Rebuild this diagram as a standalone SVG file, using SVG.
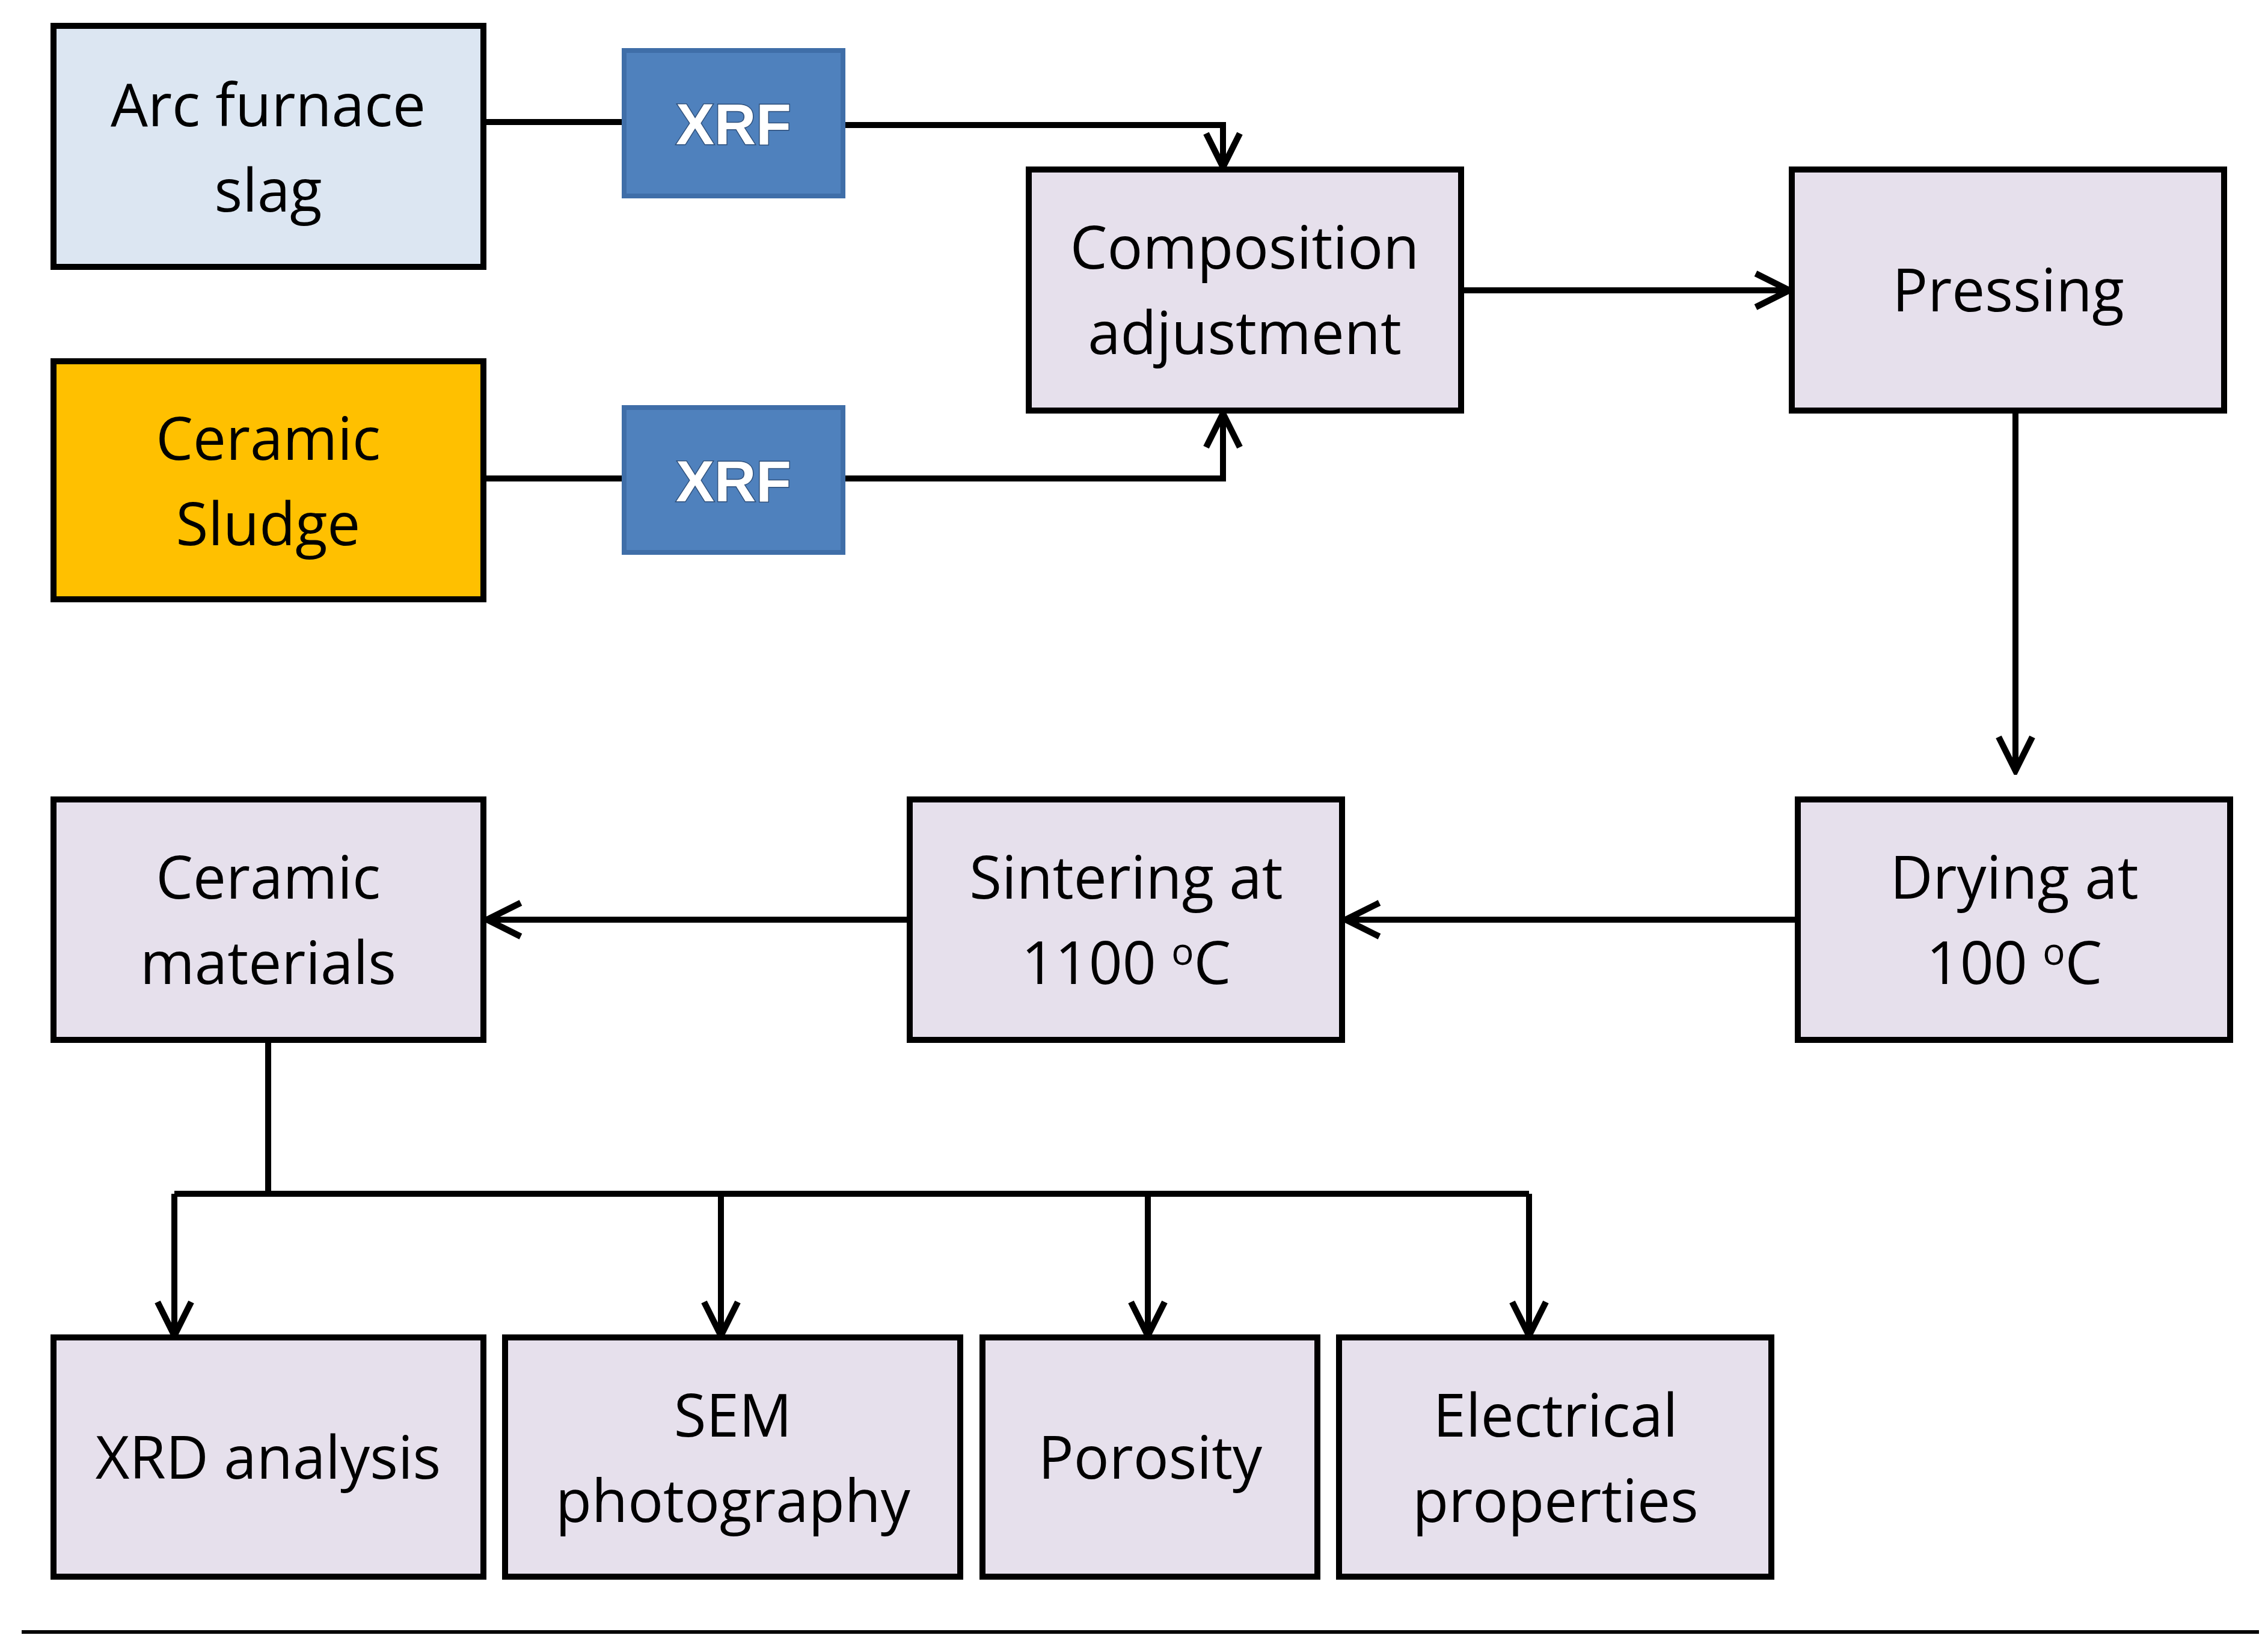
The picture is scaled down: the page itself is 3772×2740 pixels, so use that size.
<svg xmlns="http://www.w3.org/2000/svg" width="3772" height="2740" viewBox="0 0 3772 2740">
<defs>
<style>
.b{fill:#E6E0EC;stroke:#000;stroke-width:10}
.t{font-family:"Open Sans","Liberation Sans",sans-serif;font-size:98px;fill:#000;text-anchor:middle}
.x{fill:#4F81BD;stroke:#3F6EA8;stroke-width:8}
.xt{font-family:"Liberation Sans",sans-serif;font-weight:bold;font-size:96px;fill:#fff;text-anchor:middle;stroke:#2E4F7A;stroke-width:3;paint-order:stroke}
.c{fill:none;stroke:#000;stroke-width:10}
</style>
<marker id="a" viewBox="0 0 20 20" refX="18" refY="10" markerWidth="7" markerHeight="7" orient="auto" markerUnits="strokeWidth">
<path d="M2 2 L18 10 L2 18" fill="none" stroke="#000" stroke-width="3"/>
</marker>
</defs>
<rect width="3772" height="2740" fill="#fff"/>
<g id="connectors">
<path class="c" d="M804 203 H1038"/>
<path class="c" d="M1402 208 H2034 V278" marker-end="url(#a)"/>
<path class="c" d="M804 796 H1038"/>
<path class="c" d="M1402 796 H2034 V688" marker-end="url(#a)"/>
<path class="c" d="M2430 483 H2976" marker-end="url(#a)"/>
<path class="c" d="M3352 683 V1282" marker-end="url(#a)"/>
<path class="c" d="M2990 1530 H2238" marker-end="url(#a)"/>
<path class="c" d="M1513 1530 H810" marker-end="url(#a)"/>
<path class="c" d="M446 1730 V1986"/>
<path class="c" d="M290 1986 H2543"/>
<path class="c" d="M290 1986 V2222" marker-end="url(#a)"/>
<path class="c" d="M1199 1986 V2222" marker-end="url(#a)"/>
<path class="c" d="M1909 1986 V2222" marker-end="url(#a)"/>
<path class="c" d="M2543 1986 V2222" marker-end="url(#a)"/>
<path d="M36 2715 H3757" stroke="#000" stroke-width="6"/>
</g>
<g id="arc"><rect x="89" y="43" width="715" height="401" fill="#DCE6F2" stroke="#000" stroke-width="10"/><text class="t" x="446" y="210">Arc furnace</text><text class="t" x="446" y="352">slag</text></g>
<g id="sludge"><rect x="89" y="601" width="715" height="396" fill="#FFC000" stroke="#000" stroke-width="10"/><text class="t" x="446" y="765">Ceramic</text><text class="t" x="446" y="907">Sludge</text></g>
<g id="xrf1"><rect class="x" x="1038" y="84" width="364" height="242"/><text class="xt" x="1220" y="240">XRF</text></g>
<g id="xrf2"><rect class="x" x="1038" y="678" width="364" height="241"/><text class="xt" x="1220" y="834">XRF</text></g>
<g id="comp"><rect class="b" x="1711" y="282" width="719" height="401"/><text class="t" x="2070" y="447">Composition</text><text class="t" x="2070" y="589">adjustment</text></g>
<g id="press"><rect class="b" x="2980" y="282" width="719" height="401"/><text class="t" x="3340" y="518">Pressing</text></g>
<g id="dry"><rect class="b" x="2990" y="1330" width="719" height="400"/><text class="t" x="3350" y="1495">Drying at</text><text class="t" x="3350" y="1637">100 <tspan font-size="62" dy="-32">o</tspan><tspan dy="32">C</tspan></text></g>
<g id="sinter"><rect class="b" x="1513" y="1330" width="719" height="400"/><text class="t" x="1873" y="1495">Sintering at</text><text class="t" x="1873" y="1637">1100 <tspan font-size="62" dy="-32">o</tspan><tspan dy="32">C</tspan></text></g>
<g id="cermat"><rect class="b" x="89" y="1330" width="715" height="400"/><text class="t" x="446" y="1495">Ceramic</text><text class="t" x="446" y="1637">materials</text></g>
<g id="xrd"><rect class="b" x="89" y="2225" width="715" height="398"/><text class="t" x="446" y="2460">XRD analysis</text></g>
<g id="sem"><rect class="b" x="840" y="2225" width="757" height="398"/><text class="t" x="1219" y="2390">SEM</text><text class="t" x="1219" y="2532">photography</text></g>
<g id="por"><rect class="b" x="1634" y="2225" width="557" height="398"/><text class="t" x="1913" y="2460">Porosity</text></g>
<g id="elec"><rect class="b" x="2227" y="2225" width="719" height="398"/><text class="t" x="2587" y="2390">Electrical</text><text class="t" x="2587" y="2532">properties</text></g>
</svg>
